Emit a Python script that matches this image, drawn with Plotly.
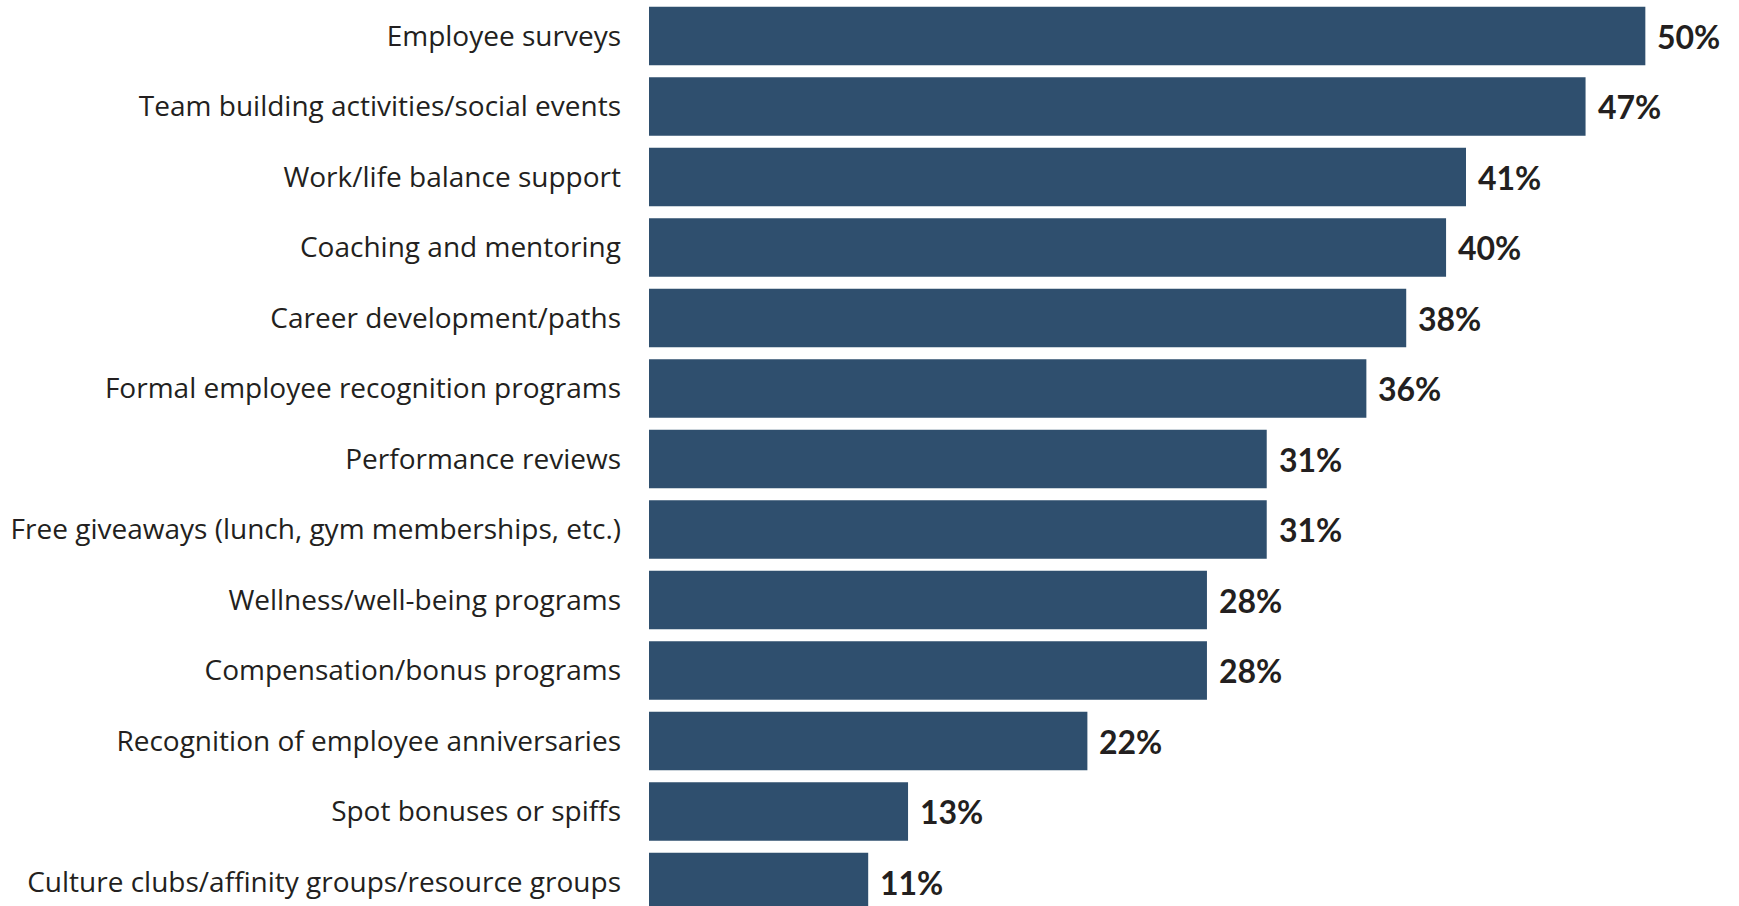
import plotly.graph_objects as go

categories = [
    "Employee surveys",
    "Team building activities/social events",
    "Work/life balance support",
    "Coaching and mentoring",
    "Career development/paths",
    "Formal employee recognition programs",
    "Performance reviews",
    "Free giveaways (lunch, gym memberships, etc.)",
    "Wellness/well-being programs",
    "Compensation/bonus programs",
    "Recognition of employee anniversaries",
    "Spot bonuses or spiffs",
    "Culture clubs/affinity groups/resource groups",
]
values = [50, 47, 41, 40, 38, 36, 31, 31, 28, 28, 22, 13, 11]
value_labels = [f"{v}%" for v in values]

BAR_COLOR = "#2F4F6E"
TEXT_COLOR = "#231F20"

fig = go.Figure()
fig.add_trace(go.Bar(
    x=values,
    y=categories,
    orientation="h",
    marker=dict(color=BAR_COLOR, line=dict(width=0)),
    hoverinfo="skip",
))

for cat, v, lab in zip(categories, values, value_labels):
    fig.add_annotation(
        x=v, y=cat, text=f"<b>{lab}</b>", showarrow=False,
        xanchor="left", yanchor="middle", xshift=10,
        font=dict(family="Lato", size=32, color=TEXT_COLOR),
    )

fig.update_layout(
    width=1739, height=906,
    margin=dict(l=649, r=0, t=0, b=0),
    paper_bgcolor="white", plot_bgcolor="white",
    bargap=0.17,
    showlegend=False,
    font=dict(family="Lato", color=TEXT_COLOR),
)
fig.update_xaxes(range=[0, 54.7], visible=False, showgrid=False, zeroline=False)
fig.update_yaxes(
    range=[12.34, -0.511],
    showgrid=False, zeroline=False, showline=False,
    ticks="", ticklabelstandoff=27,
    tickfont=dict(family="Open Sans", size=28, color=TEXT_COLOR),
)

fig.write_html("out.html")
